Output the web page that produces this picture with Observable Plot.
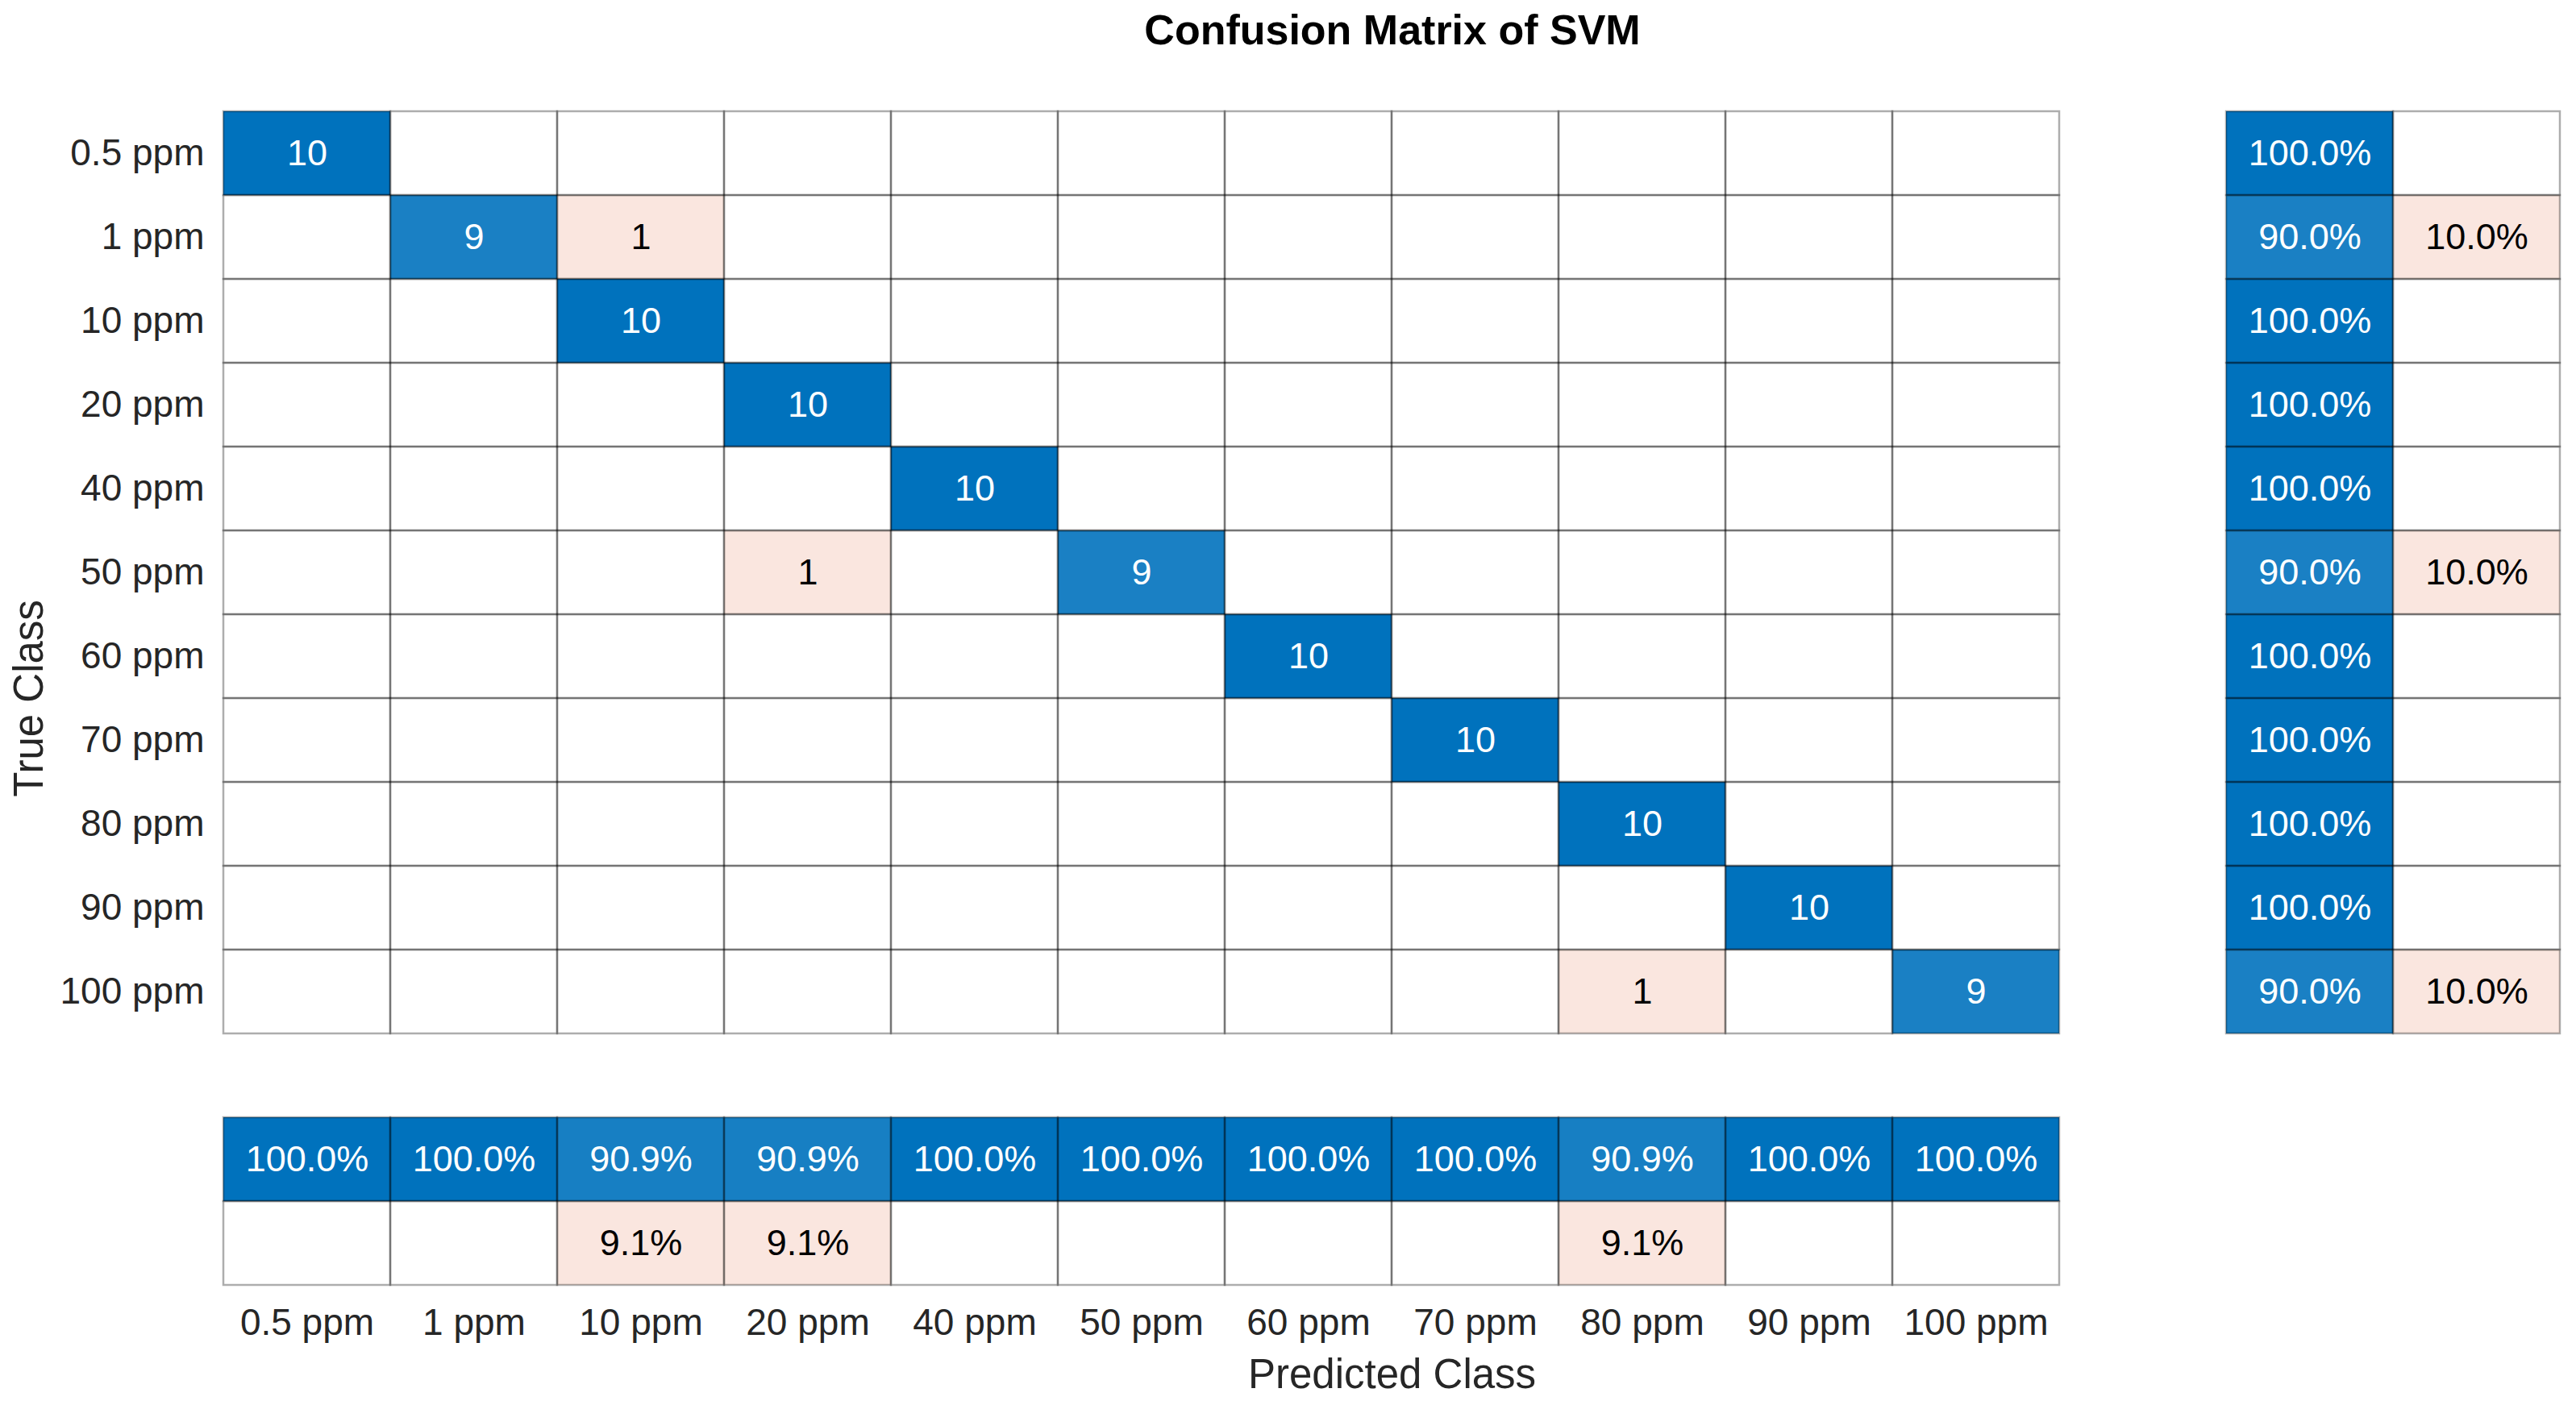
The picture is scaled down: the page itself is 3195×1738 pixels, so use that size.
<!DOCTYPE html>
<html>
<head>
<meta charset="utf-8">
<script src="https://cdn.jsdelivr.net/npm/d3@7"></script>
<script src="https://cdn.jsdelivr.net/npm/@observablehq/plot@0.6"></script>
<style>
  html, body { margin: 0; padding: 0; background: #fff; }
  #wrap { position: relative; width: 3195px; height: 1738px; }
  #title { position: absolute; left: 275px; width: 2904px; top: 0; height: 74px; line-height: 74px;
           text-align: center; font-family: "Liberation Sans", Arial, sans-serif; font-weight: bold;
           font-size: 52px; color: #000; }
  #chart { position: absolute; left: 0; top: 74px; }
  #chart svg [aria-label="x-axis label"] text, #chart svg [aria-label="y-axis label"] text { font-size: 51px; }
</style>
</head>
<body>
<div id="wrap">
  <div id="title">Confusion Matrix of SVM</div>
  <div id="chart"></div>
</div>
<script>
const classes = ["0.5 ppm","1 ppm","10 ppm","20 ppm","40 ppm","50 ppm","60 ppm","70 ppm","80 ppm","90 ppm","100 ppm"];
// counts[trueIndex][predictedIndex]
const counts = [
  [10,0,0,0,0,0,0,0,0,0,0],
  [0,9,1,0,0,0,0,0,0,0,0],
  [0,0,10,0,0,0,0,0,0,0,0],
  [0,0,0,10,0,0,0,0,0,0,0],
  [0,0,0,0,10,0,0,0,0,0,0],
  [0,0,0,1,0,9,0,0,0,0,0],
  [0,0,0,0,0,0,10,0,0,0,0],
  [0,0,0,0,0,0,0,10,0,0,0],
  [0,0,0,0,0,0,0,0,10,0,0],
  [0,0,0,0,0,0,0,0,0,10,0],
  [0,0,0,0,0,0,0,0,1,0,9]
];
const rowCorrectPct = [100.0,90.0,100.0,100.0,100.0,90.0,100.0,100.0,100.0,100.0,90.0];
const rowWrongPct   = [0,10.0,0,0,0,10.0,0,0,0,0,10.0];
const colCorrectPct = [100.0,100.0,90.9,90.9,100.0,100.0,100.0,100.0,90.9,100.0,100.0];
const colWrongPct   = [0,0,9.1,9.1,0,0,0,0,9.1,0,0];
const rowSummaryCols = ["rowCorrect","rowWrong"];
const colSummaryRows = ["colCorrect","colWrong"];

const blue = "#0072BD";
const pink = "#FAE6DF";
function fillFor(v, correct, max) {
  if (!v) return "#ffffff";
  if (correct) return d3.interpolateRgb("#ffffff", blue)(Math.min(1, v / max));
  return pink;
}

const xDomain = [...classes, "gapX", ...rowSummaryCols];
const yDomain = [...classes, "gapY", ...colSummaryRows];

const cells = [];
classes.forEach((t, i) => classes.forEach((p, j) => {
  const v = counts[i][j];
  cells.push({x: p, y: t, label: v ? String(v) : "", fill: fillFor(v, i === j, 10), dark: v > 0 && i === j});
}));
classes.forEach((t, i) => {
  cells.push({x: "rowCorrect", y: t, label: rowCorrectPct[i] ? rowCorrectPct[i].toFixed(1) + "%" : "",
              fill: fillFor(rowCorrectPct[i], true, 100), dark: rowCorrectPct[i] > 0});
  cells.push({x: "rowWrong", y: t, label: rowWrongPct[i] ? rowWrongPct[i].toFixed(1) + "%" : "",
              fill: fillFor(rowWrongPct[i], false, 100), dark: false});
});
classes.forEach((p, j) => {
  cells.push({x: p, y: "colCorrect", label: colCorrectPct[j] ? colCorrectPct[j].toFixed(1) + "%" : "",
              fill: fillFor(colCorrectPct[j], true, 100), dark: colCorrectPct[j] > 0});
  cells.push({x: p, y: "colWrong", label: colWrongPct[j] ? colWrongPct[j].toFixed(1) + "%" : "",
              fill: fillFor(colWrongPct[j], false, 100), dark: false});
});

const chart = Plot.plot({
  width: 3195,
  height: 1664,
  marginLeft: 273,
  marginRight: 16,
  marginTop: 59,
  marginBottom: 139,
  style: {fontFamily: "'Liberation Sans', Arial, sans-serif", fontSize: "46px", color: "#262626", background: "#fff"},
  x: {type: "band", domain: xDomain, padding: 0},
  y: {type: "band", domain: yDomain, padding: 0},
  color: {type: "identity"},
  marks: [
    Plot.cell(cells, {x: "x", y: "y", fill: "fill", inset: 0}),
    Plot.cell(cells, {x: "x", y: "y", fill: "none", stroke: "black", strokeOpacity: 0.32, strokeWidth: 2.5, inset: 0}),
    Plot.text(cells, {x: "x", y: "y", text: "label", fill: d => d.dark ? "#ffffff" : "#000000", fontSize: 45}),
    Plot.axisX({anchor: "bottom", ticks: classes, tickSize: 0, tickPadding: 24, fontSize: 46, fill: "#262626",
                label: "Predicted Class", labelAnchor: "center", labelArrow: "none", labelOffset: 122}),
    Plot.axisY({anchor: "left", ticks: classes, tickSize: 0, tickPadding: 20, fontSize: 46, fill: "#262626",
                label: "True Class", labelAnchor: "center", labelArrow: "none", labelOffset: 257})
  ]
});
document.getElementById("chart").appendChild(chart);
</script>
</body>
</html>
